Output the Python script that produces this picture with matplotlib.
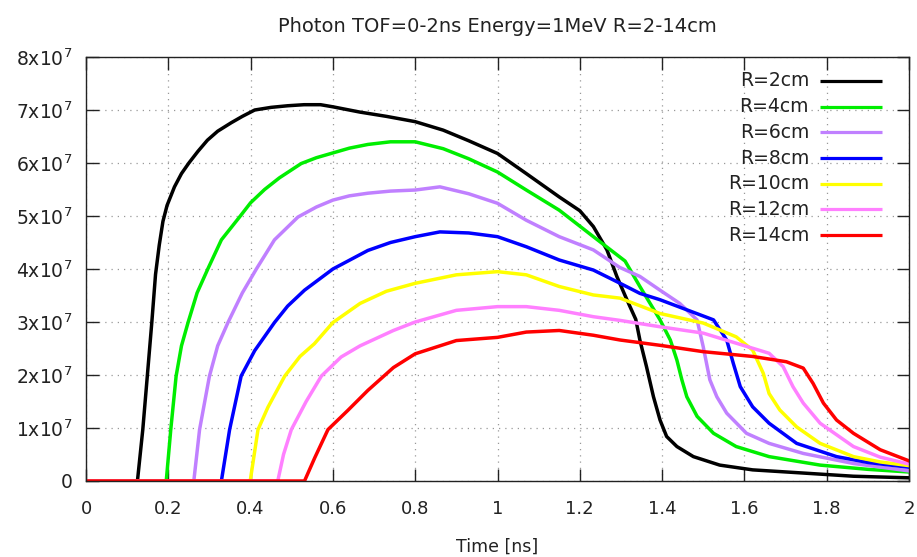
import matplotlib
matplotlib.use("Agg")
import matplotlib.pyplot as plt
import numpy as np

title = "Photon TOF=0-2ns Energy=1MeV R=2-14cm"
xlabel = "Time [ns]"
labels = ["R=2cm", "R=4cm", "R=6cm", "R=8cm", "R=10cm", "R=12cm", "R=14cm"]
colors = ["#000000", "#00ee00", "#c080ff", "#0000ff", "#ffff00", "#ff80ff", "#ff0000"]

# values in units of 1e7
t_r2 = [0, 0.12, 0.125, 0.138, 0.149, 0.16, 0.169, 0.178, 0.187, 0.197, 0.215, 0.232, 0.25, 0.272, 0.295, 0.32, 0.353, 0.38, 0.41, 0.45, 0.49, 0.53, 0.57, 0.6, 0.666, 0.73, 0.8, 0.868, 0.93, 1.0, 1.07, 1.15, 1.2, 1.233, 1.266, 1.29, 1.31, 1.322, 1.336, 1.346, 1.362, 1.379, 1.395, 1.411, 1.436, 1.476, 1.54, 1.62, 1.743, 1.865, 2.0]
v_r2 = [0, 0, 0, 0.97, 1.98, 3.0, 3.9, 4.45, 4.9, 5.2, 5.55, 5.8, 6.0, 6.22, 6.43, 6.6, 6.76, 6.88, 7.0, 7.05, 7.08, 7.1, 7.1, 7.06, 6.96, 6.88, 6.78, 6.62, 6.42, 6.18, 5.8, 5.36, 5.1, 4.8, 4.36, 3.86, 3.5, 3.29, 3.05, 2.66, 2.16, 1.59, 1.15, 0.84, 0.65, 0.46, 0.30, 0.21, 0.15, 0.09, 0.06]

t_r4 = [0, 0.19, 0.195, 0.206, 0.219, 0.232, 0.248, 0.27, 0.296, 0.329, 0.373, 0.40, 0.434, 0.47, 0.523, 0.56, 0.6, 0.64, 0.685, 0.74, 0.8, 0.868, 0.93, 1.0, 1.07, 1.15, 1.233, 1.31, 1.346, 1.395, 1.42, 1.436, 1.448, 1.46, 1.485, 1.525, 1.58, 1.66, 1.784, 1.9, 2.0]
v_r4 = [0, 0, 0, 0.97, 1.98, 2.55, 2.99, 3.55, 4.0, 4.55, 4.98, 5.25, 5.5, 5.72, 5.99, 6.1, 6.19, 6.28, 6.35, 6.4, 6.4, 6.27, 6.08, 5.83, 5.49, 5.11, 4.61, 4.15, 3.67, 3.04, 2.66, 2.28, 1.91, 1.59, 1.22, 0.9, 0.65, 0.46, 0.3, 0.22, 0.17]

t_r6 = [0, 0.258, 0.262, 0.276, 0.3, 0.32, 0.345, 0.38, 0.414, 0.458, 0.515, 0.56, 0.6, 0.64, 0.685, 0.74, 0.8, 0.86, 0.93, 1.0, 1.07, 1.15, 1.233, 1.297, 1.346, 1.395, 1.443, 1.485, 1.5, 1.516, 1.533, 1.557, 1.605, 1.66, 1.743, 1.865, 2.0]
v_r6 = [0, 0, 0, 0.97, 1.98, 2.55, 2.99, 3.55, 4.0, 4.55, 4.98, 5.17, 5.3, 5.38, 5.43, 5.47, 5.49, 5.55, 5.42, 5.24, 4.92, 4.61, 4.36, 4.03, 3.86, 3.6, 3.35, 3.04, 2.53, 1.91, 1.59, 1.28, 0.9, 0.71, 0.52, 0.33, 0.19]

t_r8 = [0, 0.325, 0.329, 0.349, 0.377, 0.41, 0.458, 0.49, 0.531, 0.6, 0.685, 0.74, 0.8, 0.86, 0.93, 1.0, 1.07, 1.15, 1.233, 1.298, 1.346, 1.395, 1.46, 1.525, 1.557, 1.573, 1.59, 1.62, 1.66, 1.727, 1.824, 1.9, 2.0]
v_r8 = [0, 0, 0, 0.97, 1.98, 2.46, 2.99, 3.3, 3.6, 4.0, 4.35, 4.5, 4.61, 4.7, 4.68, 4.61, 4.42, 4.17, 3.98, 3.73, 3.54, 3.42, 3.23, 3.04, 2.66, 2.22, 1.78, 1.4, 1.09, 0.71, 0.46, 0.35, 0.26]

t_r10 = [0, 0.395, 0.399, 0.418, 0.442, 0.483, 0.52, 0.555, 0.6, 0.666, 0.73, 0.8, 0.9, 1.0, 1.07, 1.15, 1.233, 1.298, 1.395, 1.5, 1.58, 1.62, 1.646, 1.66, 1.686, 1.727, 1.784, 1.865, 1.93, 2.0]
v_r10 = [0, 0, 0, 0.97, 1.39, 1.98, 2.35, 2.59, 2.99, 3.35, 3.58, 3.73, 3.89, 3.95, 3.89, 3.67, 3.51, 3.45, 3.16, 2.98, 2.72, 2.47, 2.03, 1.65, 1.34, 1.02, 0.71, 0.46, 0.36, 0.29]

t_r12 = [0, 0.462, 0.466, 0.48, 0.499, 0.535, 0.572, 0.62, 0.666, 0.747, 0.8, 0.9, 1.0, 1.07, 1.15, 1.233, 1.298, 1.395, 1.5, 1.58, 1.66, 1.694, 1.718, 1.743, 1.784, 1.865, 1.93, 2.0]
v_r12 = [0, 0, 0, 0.5, 0.97, 1.5, 1.98, 2.34, 2.55, 2.84, 3.0, 3.22, 3.29, 3.29, 3.22, 3.1, 3.03, 2.91, 2.79, 2.6, 2.41, 2.16, 1.78, 1.47, 1.09, 0.65, 0.45, 0.32]

t_r14 = [0, 0.525, 0.531, 0.556, 0.588, 0.636, 0.685, 0.747, 0.8, 0.9, 1.0, 1.07, 1.15, 1.233, 1.298, 1.395, 1.5, 1.62, 1.702, 1.743, 1.767, 1.792, 1.824, 1.865, 1.93, 2.0]
v_r14 = [0, 0, 0, 0.44, 0.97, 1.33, 1.71, 2.14, 2.4, 2.65, 2.71, 2.81, 2.84, 2.75, 2.66, 2.56, 2.44, 2.35, 2.25, 2.13, 1.84, 1.47, 1.15, 0.9, 0.59, 0.38]

series_t = [t_r2, t_r4, t_r6, t_r8, t_r10, t_r12, t_r14]
series_v = [v_r2, v_r4, v_r6, v_r8, v_r10, v_r12, v_r14]

ytick_vals = [0, 1, 2, 3, 4, 5, 6, 7, 8]
ytick_labels = ["0"] + [f"{k}x10$^{{7}}$" for k in range(1, 9)]
xtick_vals = [0, 0.2, 0.4, 0.6, 0.8, 1.0, 1.2, 1.4, 1.6, 1.8, 2.0]
xtick_labels = ["0", "0.2", "0.4", "0.6", "0.8", "1", "1.2", "1.4", "1.6", "1.8", "2"]

plt.rcParams['font.family'] = ['DejaVu Sans']
plt.rcParams['mathtext.fontset'] = 'dejavusans'

fig = plt.figure(figsize=(9.17, 5.57), dpi=100)
ax = fig.add_axes([86/917, 1-481/557, (909-86)/917, (481-57)/557])

for t, v, c in zip(series_t, series_v, colors):
    ax.plot(t, np.array(v) * 1e7, color=c, lw=2.5, solid_joinstyle='round')

ax.set_xlim(0, 2)
ax.set_ylim(0, 8e7)
ax.set_xticks(xtick_vals)
ax.set_xticklabels(xtick_labels)
ax.set_yticks([y * 1e7 for y in ytick_vals])
ax.set_yticklabels(ytick_labels)
ax.tick_params(direction='in', length=9, width=1, top=True, right=True,
               colors='#222222')
ax.tick_params(axis='x', pad=14, labelsize=13)
ax.tick_params(axis='y', pad=9.5, labelsize=13.5)
ax.grid(True, linestyle=(0, (1, 4)), color='#999999', lw=0.9)
for s in ax.spines.values():
    s.set_color('#222222')
    s.set_linewidth(1)

ax.set_title(title, fontsize=14, pad=18, color='#222222')
ax.set_xlabel(xlabel, fontsize=12.5, labelpad=14, color='#222222')

# legend (gnuplot style: right-aligned text, sample line to the right)
ax_h = 424.0
for i, (lab, c) in enumerate(zip(labels, colors)):
    yf = 1 - (24 + 25.67 * i) / ax_h
    ax.text(0.8785, yf, lab, transform=ax.transAxes, ha='right', va='center',
            fontsize=13.5, color='#222222')
    ax.plot([0.8918, 0.9678], [yf, yf], transform=ax.transAxes, color=c, lw=2.3,
            solid_capstyle='butt')

fig.savefig("out.png", dpi=100)
